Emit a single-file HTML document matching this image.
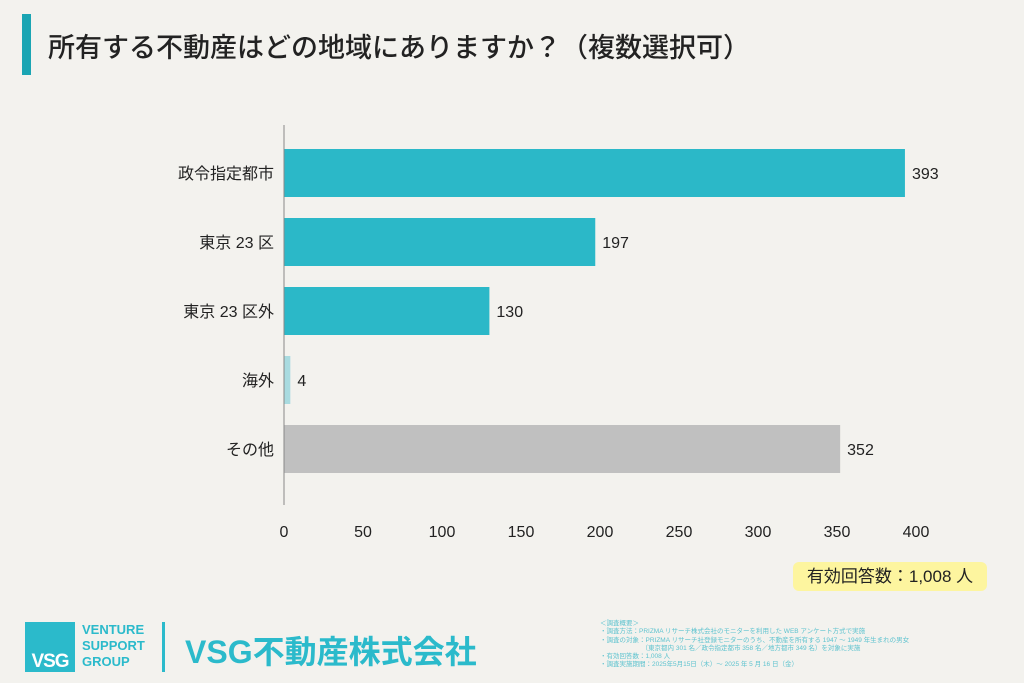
<!DOCTYPE html>
<html><head><meta charset="utf-8">
<style>
body{margin:0;width:1024px;height:683px;background:#f3f2ee;font-family:"Liberation Sans","Noto Sans CJK JP",sans-serif;position:relative;overflow:hidden;color:#222}
.abs{position:absolute}
</style></head><body>
<div class="abs" style="left:22px;top:14px;width:9px;height:61px;background:#1aa5b3"></div>
<div class="abs" style="left:48px;top:26px;font-size:27px;font-weight:500;white-space:nowrap;color:#222">所有する不動産はどの地域にありますか？（複数選択可）</div>
<svg class="abs" style="left:0;top:0" width="1024" height="683" id="chart"></svg>
<div class="abs" style="left:793px;top:562px;width:194px;height:29px;background:#fdf59f;border-radius:6px;font-size:17px;line-height:29px;text-align:center">有効回答数：1,008 人</div>
<div class="abs" style="left:25px;top:622px;width:50px;height:50px;background:#2bbacb;color:#fff;font-weight:bold;font-size:19px;line-height:20px;display:flex;align-items:flex-end;justify-content:center;letter-spacing:-1px">VSG</div>
<div class="abs" style="left:82px;top:622px;font-size:13px;line-height:16px;font-weight:bold;color:#2bbacb">VENTURE<br>SUPPORT<br>GROUP</div>
<div class="abs" style="left:162px;top:622px;width:3px;height:50px;background:#2bbacb"></div>
<div class="abs" style="left:185px;top:627px;font-size:32px;font-weight:bold;color:#2bbacb;white-space:nowrap">VSG不動産株式会社</div>
<div class="abs" style="left:600px;top:620px;font-size:6.5px;line-height:8.3px;color:#5ec3cf;white-space:nowrap">＜調査概要＞<br>・調査方法：PRIZMA リサーチ株式会社のモニターを利用した WEB アンケート方式で実施<br>・調査の対象：PRIZMA リサーチ社登録モニターのうち、不動産を所有する 1947 ～ 1949 年生まれの男女<br>&nbsp;&nbsp;&nbsp;&nbsp;&nbsp;&nbsp;&nbsp;&nbsp;&nbsp;&nbsp;&nbsp;&nbsp;&nbsp;&nbsp;&nbsp;&nbsp;&nbsp;&nbsp;&nbsp;&nbsp;&nbsp;&nbsp;&nbsp;（東京都内 301 名／政令指定都市 358 名／地方都市 349 名）を対象に実施<br>・有効回答数：1,008 人<br>・調査実施期間：2025年5月15日（木）～ 2025 年 5 月 16 日（金）</div>
<script>
const categories=["政令指定都市","東京 23 区","東京 23 区外","海外","その他"];
const values=[393,197,130,4,352];
const colors=["#2bb8c8","#2bb8c8","#2bb8c8","#a9dbe0","#c0c0c0"];
const ticks=[0,50,100,150,200,250,300,350,400];
const svg=document.getElementById('chart');
const NS='http://www.w3.org/2000/svg';
const x0=284,x1=916,yTop=149,step=69,bh=48;
const xs=v=>x0+(x1-x0)*v/400;
const ys=i=>yTop+i*step;
function mk(t,a){const e=document.createElementNS(NS,t);for(const k in a)e.setAttribute(k,a[k]);svg.appendChild(e);return e;}
categories.forEach((c,i)=>{
  const r=mk('rect',{x:x0,y:ys(i),width:xs(values[i])-x0,height:bh,fill:colors[i]});
  
  
  const l=mk('text',{x:274,y:ys(i)+bh/2+6,'text-anchor':'end','font-size':16,fill:'#222'});
  l.textContent=c;
  
  
  const v=mk('text',{x:xs(values[i])+7,y:ys(i)+bh/2+6,'font-size':16,fill:'#222'});
  v.textContent=values[i];
  
  
});
const ax=mk('line',{x1:x0,y1:125,x2:x0,y2:505,stroke:'#888','stroke-width':1});


ticks.forEach(t=>{
  const e=mk('text',{x:xs(t),y:537,'text-anchor':'middle','font-size':16,fill:'#222'});
  e.textContent=t;
  
  
});
</script>
</body></html>
